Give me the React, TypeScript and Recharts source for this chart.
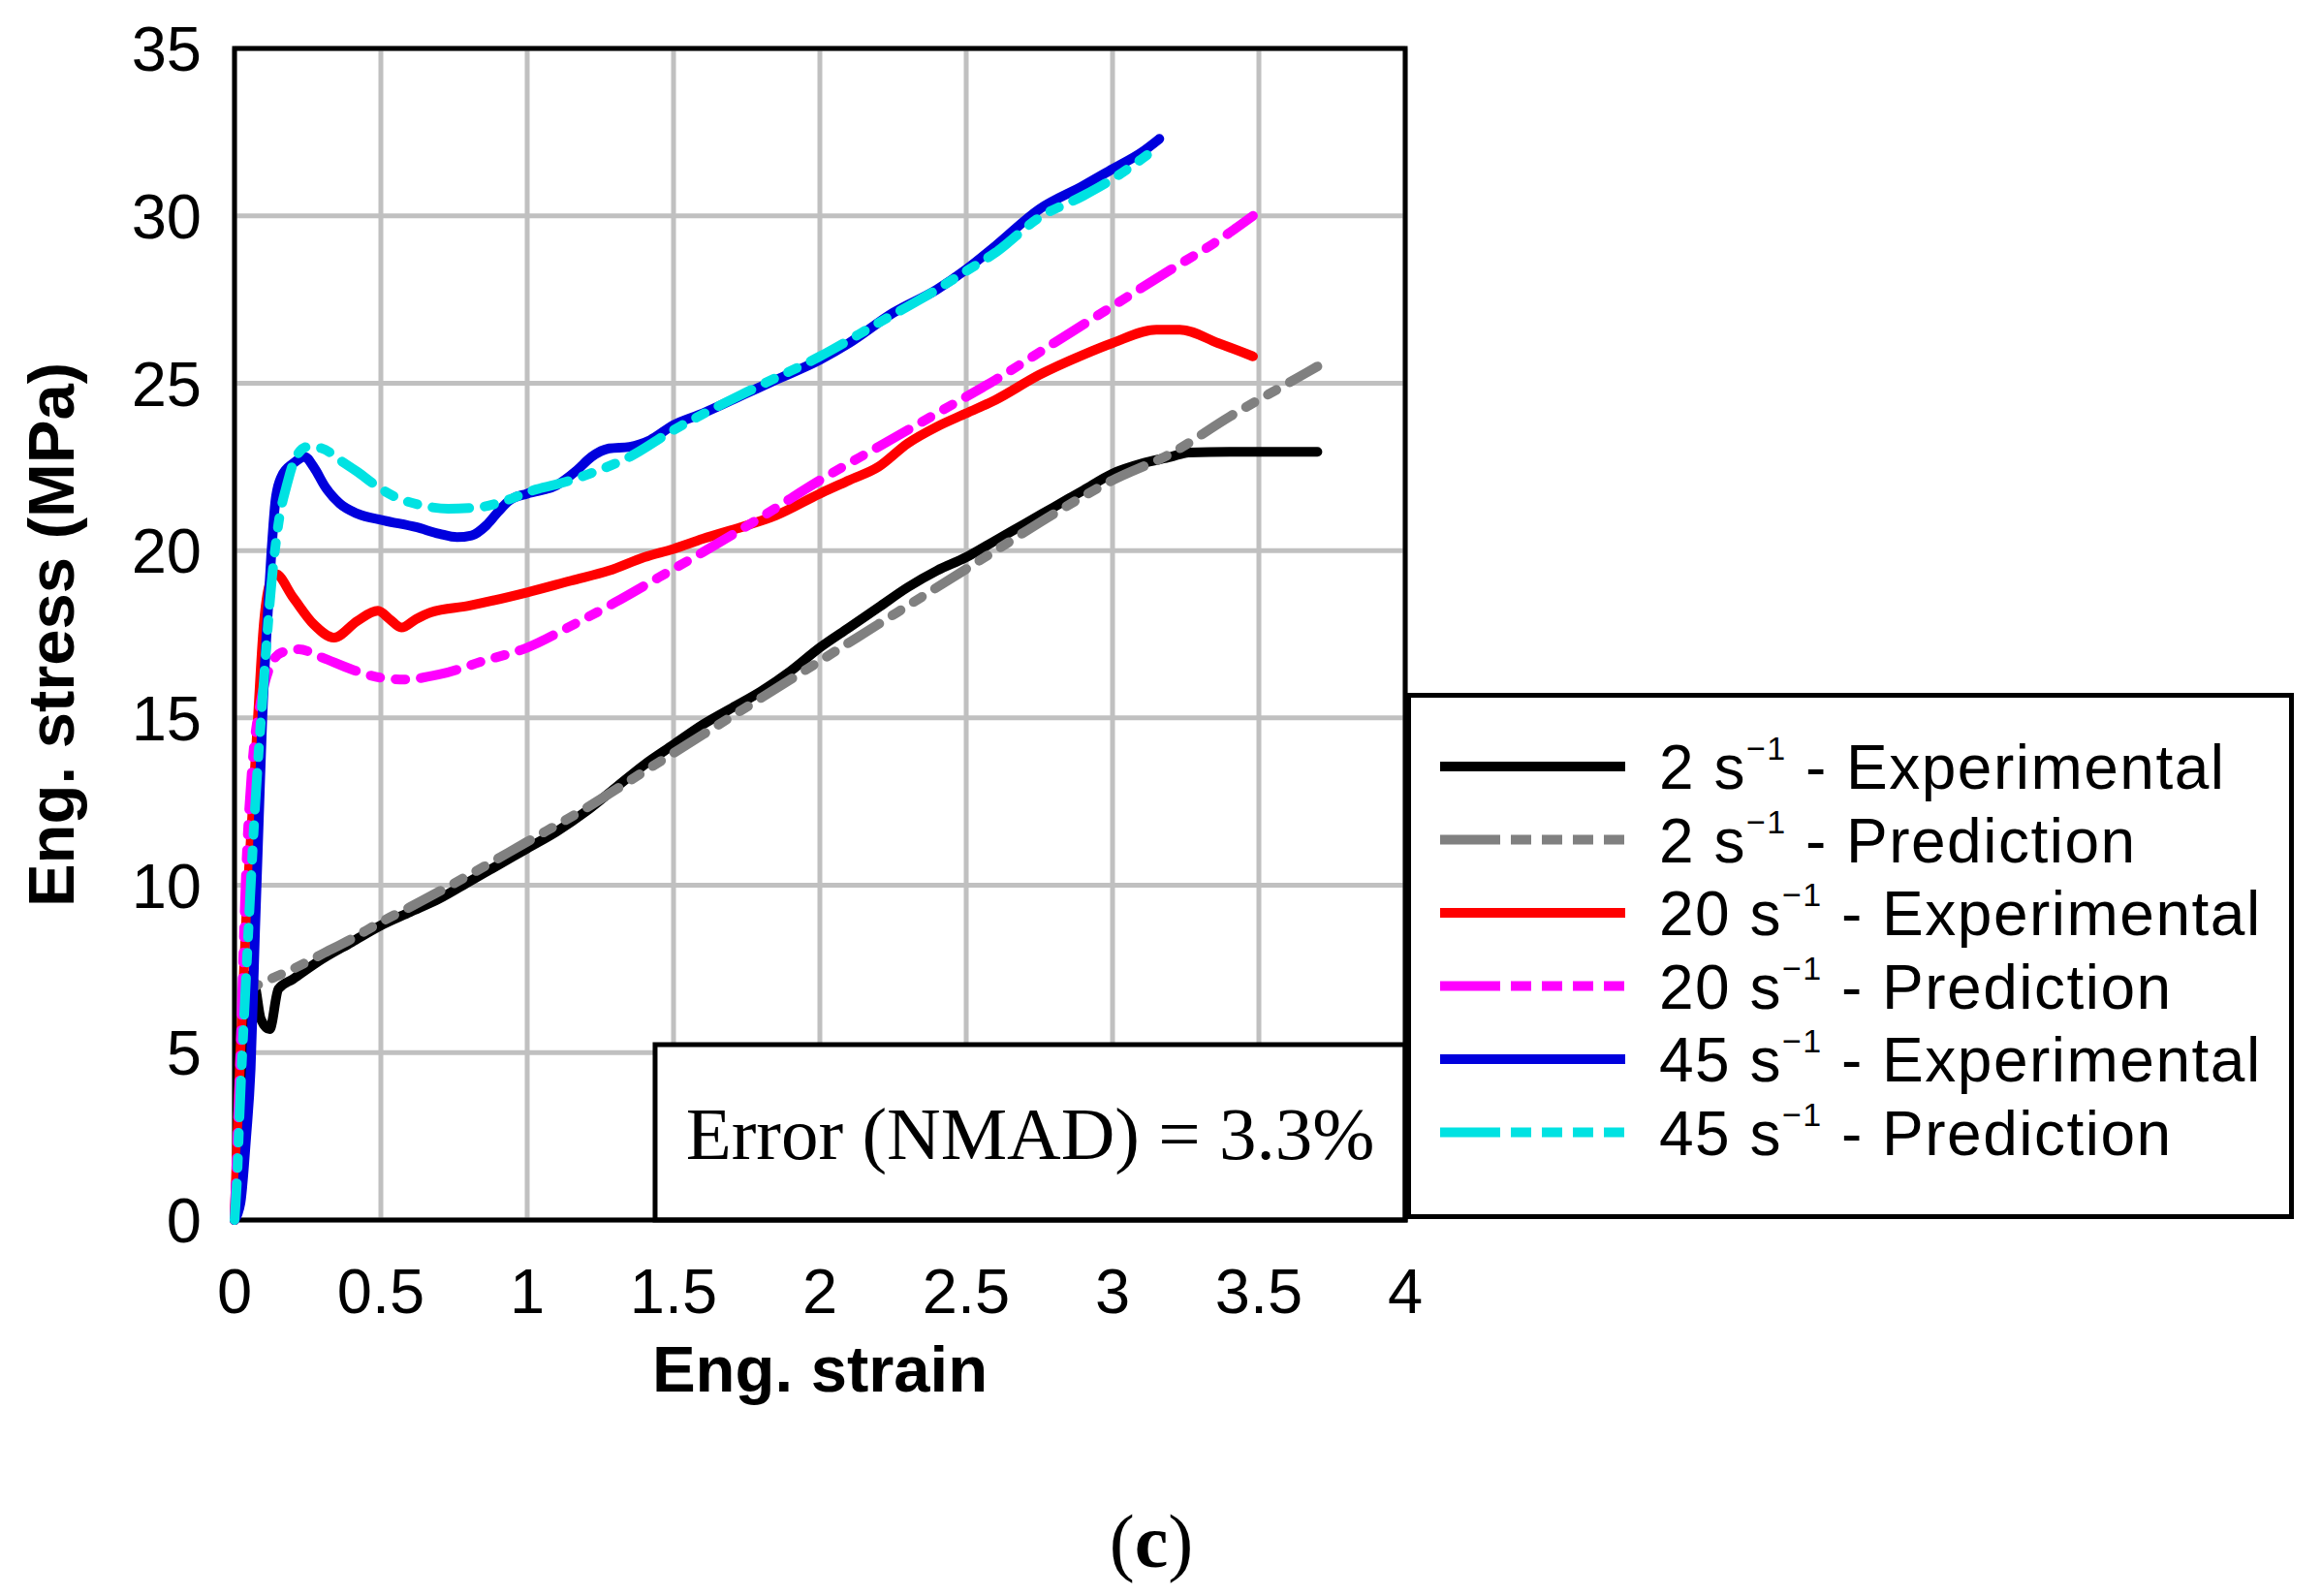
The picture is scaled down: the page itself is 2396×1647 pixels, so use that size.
import {
  CartesianGrid,
  Line,
  LineChart,
  ReferenceArea,
  XAxis,
  YAxis,
} from 'recharts';

interface Pt {
  x: number;
  y: number;
}

// strain / stress pairs
const exp2: Pt[] = [
  { x: 0, y: 0 }, { x: 0.01, y: 1.5 }, { x: 0.03, y: 5.5 }, { x: 0.05, y: 7.3 },
  { x: 0.07, y: 7.0 }, { x: 0.09, y: 6.0 }, { x: 0.12, y: 5.7 }, { x: 0.15, y: 6.9 },
  { x: 0.2, y: 7.2 }, { x: 0.3, y: 7.8 }, { x: 0.4, y: 8.3 }, { x: 0.5, y: 8.8 },
  { x: 0.6, y: 9.2 }, { x: 0.7, y: 9.6 }, { x: 0.8, y: 10.1 }, { x: 0.9, y: 10.6 },
  { x: 1.0, y: 11.1 }, { x: 1.1, y: 11.6 }, { x: 1.2, y: 12.2 }, { x: 1.3, y: 12.9 },
  { x: 1.4, y: 13.6 }, { x: 1.5, y: 14.2 }, { x: 1.6, y: 14.8 }, { x: 1.7, y: 15.3 },
  { x: 1.8, y: 15.8 }, { x: 1.9, y: 16.4 }, { x: 2.0, y: 17.1 }, { x: 2.1, y: 17.7 },
  { x: 2.2, y: 18.3 }, { x: 2.3, y: 18.9 }, { x: 2.4, y: 19.4 }, { x: 2.5, y: 19.8 },
  { x: 2.6, y: 20.3 }, { x: 2.7, y: 20.8 }, { x: 2.8, y: 21.3 }, { x: 2.9, y: 21.8 },
  { x: 3.0, y: 22.3 }, { x: 3.1, y: 22.6 }, { x: 3.2, y: 22.8 }, { x: 3.26, y: 22.93 },
  { x: 3.4, y: 22.95 }, { x: 3.55, y: 22.95 }, { x: 3.7, y: 22.95 },
];

const pred2: Pt[] = [
  { x: 0, y: 0 }, { x: 0.02, y: 4 }, { x: 0.04, y: 6.8 }, { x: 0.1, y: 7.1 },
  { x: 0.2, y: 7.5 }, { x: 0.3, y: 7.95 }, { x: 0.4, y: 8.4 }, { x: 0.5, y: 8.9 },
  { x: 0.6, y: 9.35 }, { x: 0.8, y: 10.3 }, { x: 1.0, y: 11.3 }, { x: 1.2, y: 12.3 },
  { x: 1.4, y: 13.4 }, { x: 1.6, y: 14.5 }, { x: 1.8, y: 15.6 }, { x: 2.0, y: 16.7 },
  { x: 2.2, y: 17.8 }, { x: 2.4, y: 18.9 }, { x: 2.6, y: 20.0 }, { x: 2.8, y: 21.1 },
  { x: 3.0, y: 22.1 }, { x: 3.2, y: 22.9 }, { x: 3.4, y: 24.0 }, { x: 3.6, y: 25.0 },
  { x: 3.7, y: 25.5 },
];

const exp20: Pt[] = [
  { x: 0, y: 0 }, { x: 0.02, y: 5 }, { x: 0.04, y: 9 }, { x: 0.06, y: 12 },
  { x: 0.08, y: 15 }, { x: 0.1, y: 17.8 }, { x: 0.12, y: 19.0 }, { x: 0.14, y: 19.3 },
  { x: 0.2, y: 18.6 }, { x: 0.27, y: 17.8 }, { x: 0.34, y: 17.4 }, { x: 0.42, y: 17.9 },
  { x: 0.49, y: 18.2 }, { x: 0.53, y: 17.95 }, { x: 0.57, y: 17.7 }, { x: 0.62, y: 17.95 },
  { x: 0.67, y: 18.15 }, { x: 0.8, y: 18.35 }, { x: 1.0, y: 18.75 }, { x: 1.15, y: 19.1 },
  { x: 1.28, y: 19.4 }, { x: 1.4, y: 19.8 }, { x: 1.5, y: 20.05 }, { x: 1.6, y: 20.35 },
  { x: 1.75, y: 20.75 }, { x: 1.85, y: 21.05 }, { x: 2.0, y: 21.7 }, { x: 2.1, y: 22.1 },
  { x: 2.2, y: 22.5 }, { x: 2.3, y: 23.2 }, { x: 2.4, y: 23.7 }, { x: 2.5, y: 24.1 },
  { x: 2.6, y: 24.5 }, { x: 2.75, y: 25.25 }, { x: 2.9, y: 25.85 }, { x: 3.0, y: 26.2 },
  { x: 3.15, y: 26.6 }, { x: 3.23, y: 26.6 }, { x: 3.36, y: 26.2 }, { x: 3.48, y: 25.8 },
];

const pred20: Pt[] = [
  { x: 0, y: 0 }, { x: 0.02, y: 5 }, { x: 0.04, y: 10.5 }, { x: 0.06, y: 13.5 },
  { x: 0.09, y: 15.5 }, { x: 0.12, y: 16.5 }, { x: 0.16, y: 16.95 }, { x: 0.22, y: 17.05 },
  { x: 0.3, y: 16.8 }, { x: 0.4, y: 16.45 }, { x: 0.5, y: 16.2 }, { x: 0.58, y: 16.15 },
  { x: 0.7, y: 16.3 }, { x: 0.85, y: 16.7 }, { x: 1.0, y: 17.1 }, { x: 1.15, y: 17.75 },
  { x: 1.3, y: 18.45 }, { x: 1.45, y: 19.2 }, { x: 1.6, y: 19.95 }, { x: 1.8, y: 21.0 },
  { x: 2.0, y: 22.1 }, { x: 2.2, y: 23.1 }, { x: 2.4, y: 24.1 }, { x: 2.6, y: 25.1 },
  { x: 2.8, y: 26.2 }, { x: 3.0, y: 27.3 }, { x: 3.2, y: 28.4 }, { x: 3.35, y: 29.2 },
  { x: 3.48, y: 30.0 },
];

const exp45: Pt[] = [
  { x: 0, y: 0 }, { x: 0.02, y: 0.5 }, { x: 0.04, y: 2.5 }, { x: 0.055, y: 4.5 },
  { x: 0.07, y: 8.6 }, { x: 0.085, y: 12.5 }, { x: 0.095, y: 15.0 }, { x: 0.11, y: 17.6 },
  { x: 0.125, y: 19.8 }, { x: 0.14, y: 21.5 }, { x: 0.16, y: 22.2 }, { x: 0.2, y: 22.6 },
  { x: 0.24, y: 22.8 }, { x: 0.27, y: 22.5 }, { x: 0.31, y: 21.9 }, { x: 0.36, y: 21.4 },
  { x: 0.42, y: 21.1 }, { x: 0.51, y: 20.9 }, { x: 0.62, y: 20.7 }, { x: 0.7, y: 20.5 },
  { x: 0.76, y: 20.4 }, { x: 0.81, y: 20.45 }, { x: 0.86, y: 20.75 }, { x: 0.9, y: 21.15 },
  { x: 0.94, y: 21.5 }, { x: 1.0, y: 21.7 }, { x: 1.1, y: 21.95 }, { x: 1.17, y: 22.4 },
  { x: 1.22, y: 22.8 }, { x: 1.28, y: 23.05 }, { x: 1.35, y: 23.1 }, { x: 1.42, y: 23.3 },
  { x: 1.5, y: 23.75 }, { x: 1.6, y: 24.1 }, { x: 1.75, y: 24.7 }, { x: 1.85, y: 25.1 },
  { x: 2.0, y: 25.7 }, { x: 2.1, y: 26.2 }, { x: 2.25, y: 27.1 }, { x: 2.4, y: 27.8 },
  { x: 2.5, y: 28.4 }, { x: 2.6, y: 29.1 }, { x: 2.75, y: 30.2 }, { x: 2.9, y: 30.9 },
  { x: 3.0, y: 31.4 }, { x: 3.1, y: 31.9 }, { x: 3.16, y: 32.3 },
];

const pred45: Pt[] = [
  { x: 0, y: 0 }, { x: 0.01, y: 1.5 }, { x: 0.016, y: 2.9 }, { x: 0.038, y: 7.0 },
  { x: 0.07, y: 12.3 }, { x: 0.1, y: 16.1 }, { x: 0.126, y: 19.0 }, { x: 0.15, y: 20.8 },
  { x: 0.18, y: 22.0 }, { x: 0.21, y: 22.8 }, { x: 0.25, y: 23.1 }, { x: 0.3, y: 23.05 },
  { x: 0.36, y: 22.7 }, { x: 0.42, y: 22.35 }, { x: 0.49, y: 21.9 }, { x: 0.55, y: 21.6 },
  { x: 0.64, y: 21.35 }, { x: 0.73, y: 21.25 }, { x: 0.84, y: 21.3 }, { x: 0.93, y: 21.5 },
  { x: 1.02, y: 21.8 }, { x: 1.11, y: 22.0 }, { x: 1.23, y: 22.35 }, { x: 1.35, y: 22.8 },
  { x: 1.5, y: 23.6 }, { x: 1.65, y: 24.3 }, { x: 1.8, y: 24.95 }, { x: 2.0, y: 25.8 },
  { x: 2.2, y: 26.8 }, { x: 2.4, y: 27.8 }, { x: 2.5, y: 28.35 }, { x: 2.6, y: 28.9 },
  { x: 2.75, y: 29.95 }, { x: 2.9, y: 30.6 }, { x: 3.0, y: 31.1 }, { x: 3.1, y: 31.7 },
  { x: 3.16, y: 32.1 },
];

const xTicks = [0, 0.5, 1, 1.5, 2, 2.5, 3, 3.5, 4];
const yTicks = [0, 5, 10, 15, 20, 25, 30, 35];

const SANS = '"Liberation Sans", Arial, sans-serif';
const SERIF = '"Liberation Serif", "Times New Roman", serif';
const PRED_DASH = '38 16 10 16 10 16';
const LEGEND_DASH = '62 11 21 11 21 11 21 11 21';

const series = [
  { key: 'exp2', rate: '2', kind: 'Experimental', data: exp2, color: '#000000', dashed: false },
  { key: 'pred2', rate: '2', kind: 'Prediction', data: pred2, color: '#808080', dashed: true },
  { key: 'exp20', rate: '20', kind: 'Experimental', data: exp20, color: '#ff0000', dashed: false },
  { key: 'pred20', rate: '20', kind: 'Prediction', data: pred20, color: '#ff00ff', dashed: true },
  { key: 'exp45', rate: '45', kind: 'Experimental', data: exp45, color: '#0000dd', dashed: false },
  { key: 'pred45', rate: '45', kind: 'Prediction', data: pred45, color: '#00e2e2', dashed: true },
];

function StressLegend() {
  return (
    <svg
      width={916}
      height={543}
      style={{ position: 'absolute', left: 1451, top: 715 }}
    >
      <rect x={2.5} y={2.5} width={911} height={538} fill="#fff" stroke="#000" strokeWidth={5} />
      {series.map((s, i) => {
        const cy = 76 + i * 75.5;
        return (
          <g key={s.key}>
            <line
              x1={35}
              x2={226}
              y1={cy}
              y2={cy}
              stroke={s.color}
              strokeWidth={10}
              strokeDasharray={s.dashed ? LEGEND_DASH : undefined}
            />
            <text x={261} y={cy + 23} fontSize={64} fontFamily={SANS} fill="#000" letterSpacing={1.5}>
              {s.rate} s
              <tspan fontSize={34} dy={-30}>
                {'\u22121'}
              </tspan>
              <tspan dy={30}>{' - ' + s.kind}</tspan>
            </text>
          </g>
        );
      })}
    </svg>
  );
}

export default function App() {
  return (
    <div
      style={{
        position: 'absolute',
        left: 0,
        top: 0,
        width: 2396,
        height: 1647,
        background: '#fff',
      }}
    >
      <LineChart width={2396} height={1647} margin={{ top: 50, right: 946, bottom: 0, left: 0 }}>
        <CartesianGrid stroke="#c0c0c0" strokeWidth={5} />
        <XAxis
          dataKey="x"
          type="number"
          domain={[0, 4]}
          ticks={xTicks}
          height={388}
          axisLine={false}
          tickLine={false}
          tickSize={0}
          tickMargin={50}
          interval={0}
          tick={{ fontSize: 65, fill: '#000', fontFamily: SANS }}
          label={{
            value: 'Eng. strain',
            position: 'insideTop',
            offset: 129,
            fontSize: 67,
            fontWeight: 'bold',
            fontFamily: SANS,
            fill: '#000',
          }}
        />
        <YAxis
          type="number"
          domain={[0, 35]}
          ticks={yTicks}
          width={242}
          axisLine={false}
          tickLine={false}
          tickSize={0}
          tickMargin={34}
          interval={0}
          tick={{ fontSize: 65, fill: '#000', fontFamily: SANS }}
          label={{
            content: () => (
              <text
                transform="translate(76, 655) rotate(-90)"
                textAnchor="middle"
                fontSize={67}
                fontWeight="bold"
                fontFamily={SANS}
                fill="#000"
              >
                Eng. stress (MPa)
              </text>
            ),
          }}
        />
        <ReferenceArea
          x1={1.437}
          x2={4}
          y1={0}
          y2={5.24}
          fill="#fff"
          fillOpacity={1}
          stroke="#000"
          strokeWidth={5}
          label={{
            value: 'Error (NMAD) = 3.3%',
            position: 'center',
            fontSize: 77,
            fontFamily: SERIF,
            fill: '#000',
          }}
        />
        <ReferenceArea
          x1={0}
          x2={4}
          y1={0}
          y2={35}
          fill="none"
          stroke="#000"
          strokeWidth={5}
        />
        {series.map((s) => (
          <Line
            key={s.key}
            data={s.data}
            dataKey="y"
            name={`${s.rate} s-1 - ${s.kind}`}
            type="monotone"
            stroke={s.color}
            strokeWidth={10}
            strokeLinecap="round"
            strokeLinejoin="round"
            strokeDasharray={s.dashed ? PRED_DASH : undefined}
            dot={false}
            activeDot={false}
            isAnimationActive={false}
          />
        ))}
      </LineChart>
      <StressLegend />
      <svg
        width={2396}
        height={200}
        style={{ position: 'absolute', left: 0, top: 1450, pointerEvents: 'none' }}
      >
        <text x={1188} y={167} textAnchor="middle" fontSize={78} fontFamily={SERIF} fill="#000">
          (<tspan fontWeight="bold">c</tspan>)
        </text>
      </svg>
    </div>
  );
}
